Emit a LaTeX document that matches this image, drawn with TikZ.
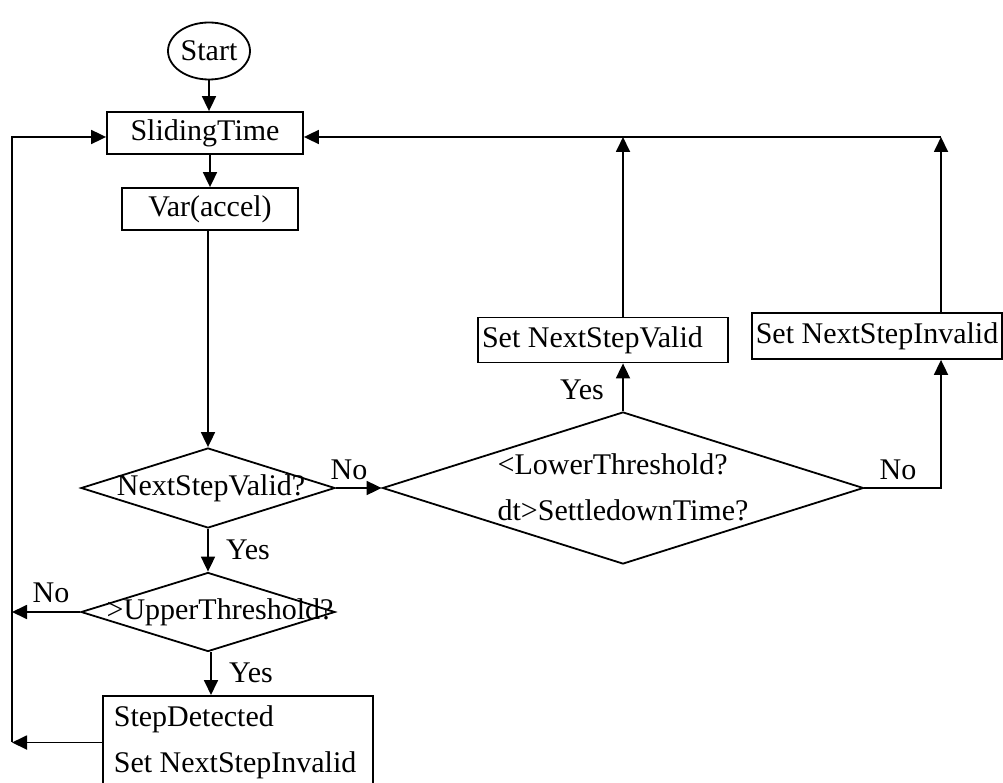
\documentclass[tikz,border=0pt]{standalone}
\usepackage{fontspec}
\setmainfont{Liberation Serif}
\usetikzlibrary{shapes.geometric,arrows.meta}

\tikzset{
  box/.style={draw, inner sep=0pt},
  decision/.style={draw, diamond, inner sep=0pt},
  flow/.style={-{Triangle[length=15pt,width=14pt]}},
}

\begin{document}
\begin{tikzpicture}[x=1pt,y=-1pt,line width=1.8pt,font=\fontsize{30}{46}\selectfont]
	\useasboundingbox (0,0) rectangle (1003,783);
	% blocks
	\node[draw,ellipse,minimum width=82pt,minimum height=57pt,inner sep=0pt] (start) at (209,51) {Start};
	\node[box,minimum width=196pt,minimum height=42pt] (slide) at (205,133) {SlidingTime};
	\node[box,minimum width=176pt,minimum height=42pt] (var) at (210,209) {Var(accel)};
	\node[decision,minimum width=254pt,minimum height=80pt] (nsv) at (208,488) {\makebox[0pt]{\kern6pt NextStepValid?}};
	\node[decision,minimum width=254pt,minimum height=79pt] (upper) at (208,612) {\makebox[0pt]{\kern24pt >UpperThreshold?}};
	\node[decision,minimum width=481pt,minimum height=152pt] (lower) at (623,488) {\makebox[0pt]{\begin{tabular}{@{}l@{}}<LowerThreshold?\\dt>SettledownTime?\end{tabular}}};
	\node[box,text width=242pt,align=flush left,inner xsep=4pt,minimum height=45pt] (valid) at (603,340) {Set NextStepValid};
	\node[box,minimum width=250pt,minimum height=46pt] (invalid) at (877,336) {Set NextStepInvalid};
	\node[box,anchor=north west,text width=248pt,align=flush left,inner xsep=11pt,inner ysep=10pt] (detect) at (102,695) {StepDetected\\Set NextStepInvalid};
	% labels
	\node (no1) at (349,470) {No};
	\node (yes1) at (248,550) {Yes};
	\node (no2) at (51,593) {No};
	\node (yes2) at (251,673) {Yes};
	\node (yes3) at (582,390) {Yes};
	\node (no3) at (898,470) {No};
	% corners of the loops
	\coordinate (lbot) at (12,742);
	\coordinate (ltop) at (12,137);
	\coordinate (ttop) at (941,137);
	% connectors
	\draw[flow] (start) -- (start |- slide.north);
	\draw[flow] (var.north |- slide.south) -- (var.north);
	\draw[flow] (nsv.north |- var.south) -- (nsv.north);
	\draw[flow] (nsv.east) -- (lower.west);
	\draw[flow] (nsv.south) -- (upper.north);
	\draw[flow] (upper.west) -- (upper.west -| lbot);
	\draw[flow] ([xshift=3pt]upper.south) -- ([xshift=3pt]upper.south |- detect.north);
	\draw[flow] (detect.west) -- (detect.west -| lbot);
	\draw[flow] (lbot) -- (ltop) -- (slide.west |- ltop);
	\draw[flow] (lower.north) -- (lower.north |- valid.south);
	\draw[flow] (lower.east) -| (ttop |- invalid.south);
	\draw[flow] (lower.north |- valid.north) -- (lower.north |- ttop);
	\draw[flow] (ttop |- invalid.north) -- (ttop);
	\draw[flow] (ttop) -- (slide.east |- ttop);
\end{tikzpicture}
\end{document}
